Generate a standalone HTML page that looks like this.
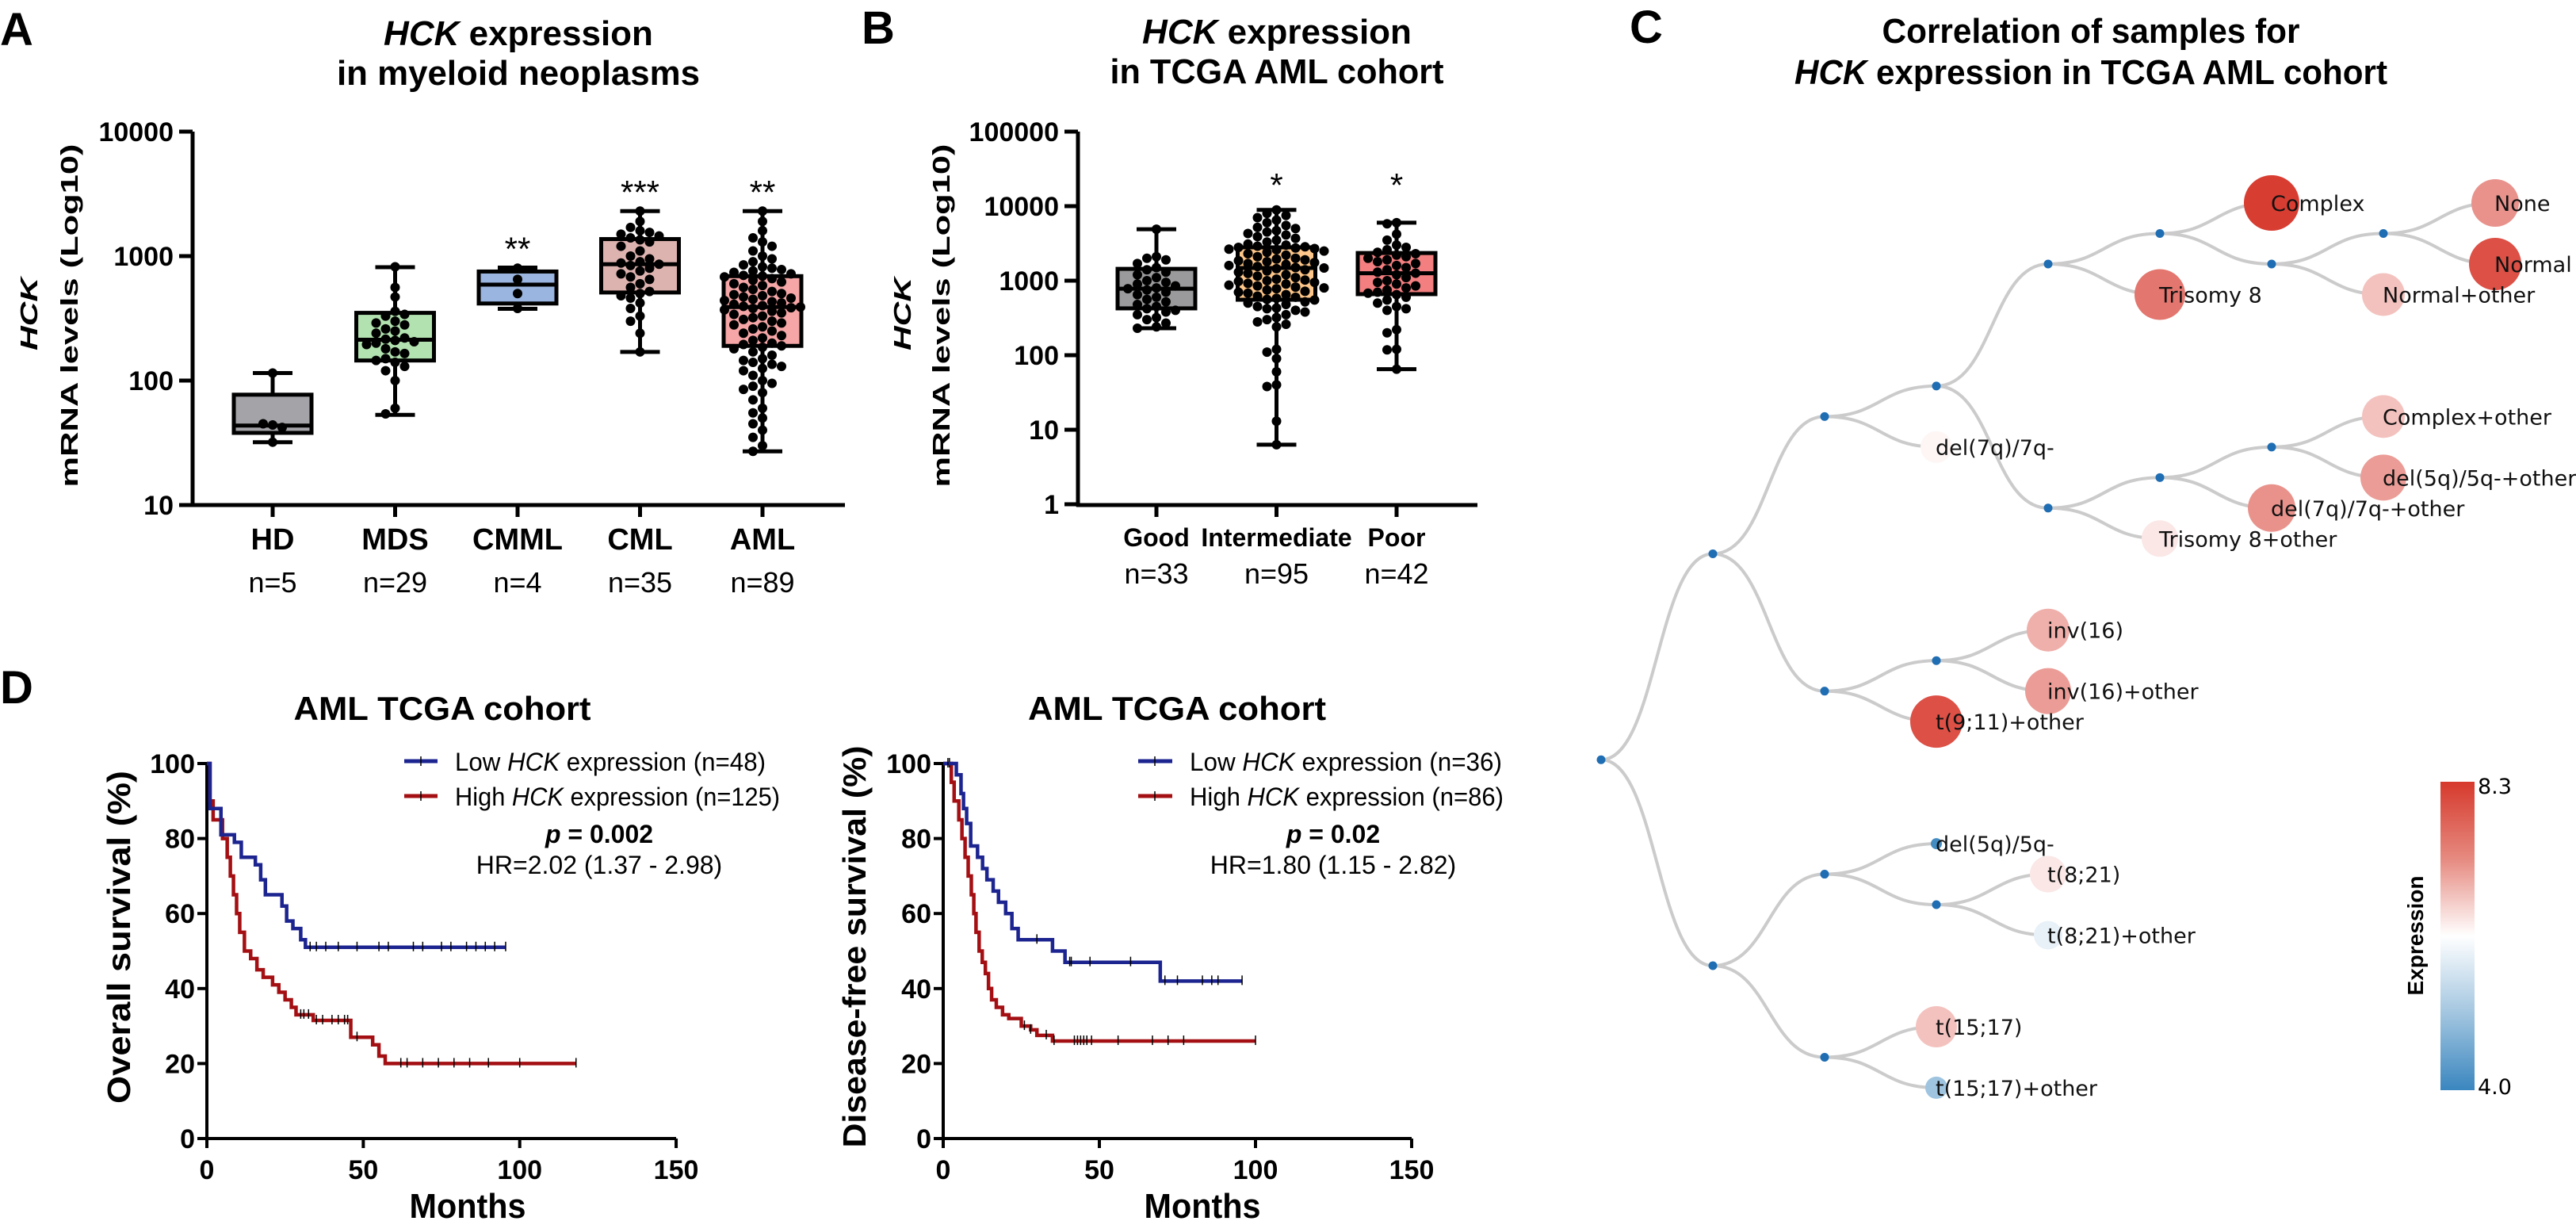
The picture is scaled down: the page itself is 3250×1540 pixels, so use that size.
<!DOCTYPE html>
<html>
<head>
<meta charset="utf-8">
<style>
  html,body{margin:0;padding:0;background:#fff;}
  svg{display:block;}
  text{font-family:"Liberation Sans",Arial,sans-serif;}
  .tree-label{font-family:"DejaVu Sans","Liberation Sans",sans-serif;}
</style>
</head>
<body>
<svg id="fig" xmlns="http://www.w3.org/2000/svg" width="3250" height="1540" viewBox="0 0 3250 1540">
  <defs>
    <linearGradient id="cbar" x1="0" y1="0" x2="0" y2="1">
      <stop offset="0" stop-color="#d6392c"/>
      <stop offset="0.25" stop-color="#e68a80"/>
      <stop offset="0.5" stop-color="#ffffff"/>
      <stop offset="0.75" stop-color="#a3c6e0"/>
      <stop offset="1" stop-color="#3a86bf"/>
    </linearGradient>
  </defs>
  <rect x="0" y="0" width="3250" height="1540" fill="#fff"/>

  <!-- Panel letters -->
  <text x="0" y="57" font-size="58" font-weight="bold">A</text>
  <text x="1087" y="55" font-size="58" font-weight="bold">B</text>
  <text x="2056" y="54" font-size="58" font-weight="bold">C</text>
  <text x="0" y="887" font-size="58" font-weight="bold">D</text>

  <!-- Titles -->
  <g font-weight="bold" font-size="44" text-anchor="middle">
    <text x="654" y="57"><tspan font-style="italic">HCK</tspan> expression</text>
    <text x="654" y="107" textLength="458" lengthAdjust="spacingAndGlyphs">in myeloid neoplasms</text>
  </g>
  <g font-weight="bold" font-size="44" text-anchor="middle">
    <text x="1611" y="55"><tspan font-style="italic">HCK</tspan> expression</text>
    <text x="1611" y="105" textLength="421" lengthAdjust="spacingAndGlyphs">in TCGA AML cohort</text>
  </g>
  <g font-weight="bold" font-size="44" text-anchor="middle">
    <text x="2638" y="54" textLength="527" lengthAdjust="spacingAndGlyphs">Correlation of samples for</text>
    <text x="2638" y="106" textLength="748" lengthAdjust="spacingAndGlyphs"><tspan font-style="italic">HCK</tspan> expression in TCGA AML cohort</text>
  </g>
  <text x="558" y="908" font-size="42" font-weight="bold" text-anchor="middle" textLength="375" lengthAdjust="spacingAndGlyphs">AML TCGA cohort</text>
  <text x="1485" y="908" font-size="42" font-weight="bold" text-anchor="middle" textLength="376" lengthAdjust="spacingAndGlyphs">AML TCGA cohort</text>

  <!-- Y axis titles A/B -->
  <g font-weight="bold" font-size="31" text-anchor="middle">
    <text transform="translate(47,396) rotate(-90)" font-style="italic" textLength="92" lengthAdjust="spacingAndGlyphs">HCK</text>
    <text transform="translate(98,398) rotate(-90)" textLength="433" lengthAdjust="spacingAndGlyphs">mRNA levels (Log10)</text>
  </g>
  <g font-weight="bold" font-size="31" text-anchor="middle">
    <text transform="translate(1149,396) rotate(-90)" font-style="italic" textLength="92" lengthAdjust="spacingAndGlyphs">HCK</text>
    <text transform="translate(1198,398) rotate(-90)" textLength="433" lengthAdjust="spacingAndGlyphs">mRNA levels (Log10)</text>
  </g>

  <!-- D axis titles -->
  <text transform="translate(164,1182) rotate(-90)" font-size="41" font-weight="bold" text-anchor="middle" textLength="420" lengthAdjust="spacingAndGlyphs">Overall survival (%)</text>
  <text transform="translate(1092,1194) rotate(-90)" font-size="41" font-weight="bold" text-anchor="middle" textLength="507" lengthAdjust="spacingAndGlyphs">Disease-free survival (%)</text>
  <text x="590" y="1536" font-size="44" font-weight="bold" text-anchor="middle" textLength="147" lengthAdjust="spacingAndGlyphs">Months</text>
  <text x="1517" y="1536" font-size="44" font-weight="bold" text-anchor="middle" textLength="147" lengthAdjust="spacingAndGlyphs">Months</text>

  <!-- D legends -->
  <g font-size="32">
    <g>
      <line x1="510" y1="960" x2="552" y2="960" stroke="#1c2490" stroke-width="5"/>
      <line x1="531" y1="954" x2="531" y2="966" stroke="#000" stroke-width="1.5"/>
      <text x="574" y="972" textLength="392" lengthAdjust="spacingAndGlyphs">Low <tspan font-style="italic">HCK</tspan> expression (n=48)</text>
    </g>
    <g>
      <line x1="510" y1="1004" x2="552" y2="1004" stroke="#a30f12" stroke-width="5"/>
      <line x1="531" y1="998" x2="531" y2="1010" stroke="#000" stroke-width="1.5"/>
      <text x="574" y="1016" textLength="410" lengthAdjust="spacingAndGlyphs">High <tspan font-style="italic">HCK</tspan> expression (n=125)</text>
    </g>
    <text x="756" y="1063" text-anchor="middle" font-weight="bold"><tspan font-style="italic">p</tspan> = 0.002</text>
    <text x="756" y="1102" text-anchor="middle">HR=2.02 (1.37 - 2.98)</text>
  </g>
  <g font-size="32">
    <g>
      <line x1="1436" y1="960" x2="1479" y2="960" stroke="#1c2490" stroke-width="5"/>
      <line x1="1457" y1="954" x2="1457" y2="966" stroke="#000" stroke-width="1.5"/>
      <text x="1501" y="972" textLength="394" lengthAdjust="spacingAndGlyphs">Low <tspan font-style="italic">HCK</tspan> expression (n=36)</text>
    </g>
    <g>
      <line x1="1436" y1="1004" x2="1479" y2="1004" stroke="#a30f12" stroke-width="5"/>
      <line x1="1457" y1="998" x2="1457" y2="1010" stroke="#000" stroke-width="1.5"/>
      <text x="1501" y="1016" textLength="396" lengthAdjust="spacingAndGlyphs">High <tspan font-style="italic">HCK</tspan> expression (n=86)</text>
    </g>
    <text x="1682" y="1063" text-anchor="middle" font-weight="bold"><tspan font-style="italic">p</tspan> = 0.02</text>
    <text x="1682" y="1102" text-anchor="middle">HR=1.80 (1.15 - 2.82)</text>
  </g>

  <!-- Colorbar -->
  <g>
    <rect x="3079" y="986" width="43" height="389" fill="url(#cbar)"/>
    <text x="3126" y="1001" class="tree-label" font-size="27">8.3</text>
    <text x="3126" y="1380" class="tree-label" font-size="27">4.0</text>
    <text transform="translate(3057,1180) rotate(-90)" font-size="28" font-weight="bold" text-anchor="middle">Expression</text>
  </g>

  <g id="layer"></g>
</svg>

<script>
// ===== Panel A data =====
const catA = ['HD','MDS','CMML','CML','AML'];
const nA = [5,29,4,35,89];
const q1A = [38,145,416,510,190];
const medA = [43.5,213,590,860,390];
const q3A = [77,350,752,1370,690];
const loA = [32,53,377,170,27];
const hiA = [115,815,808,2300,2300];
const sigA = ['','','**','***','**'];
const colA = ['#a3a3a8','#b2e2b0','#9ab5df','#ddb3b0','#f6a6a6'];
const ticksA = [10,100,1000,10000];
const ptsHD = [115,44,45,42,32];
const ptsMDS = [820,560,470,360,330,340,300,290,280,260,250,240,220,215,210,205,200,195,180,170,165,150,145,140,130,120,100,60,54];
const ptsCMML = [800,650,500,380];
const ptsCML = [2300,1900,1700,1600,1550,1500,1450,1400,1350,1300,1200,1100,1000,950,900,880,860,840,800,760,720,680,650,600,560,520,500,480,460,420,380,330,300,240,170];
const ptsAML = [2300,1900,1600,1400,1300,1200,1100,1000,950,900,850,820,800,780,760,740,720,700,690,680,660,640,620,600,580,560,540,520,500,490,480,470,460,450,440,430,420,410,400,395,390,385,380,370,360,350,340,330,320,310,300,290,280,270,260,250,240,230,220,210,200,195,190,185,180,170,160,150,145,140,135,130,125,120,110,100,95,90,85,80,70,60,55,50,45,40,35,30,27];

// ===== Panel B data =====
const catB = ['Good','Intermediate','Poor'];
const nB = [33,95,42];
const q1B = [425,555,660];
const medB = [780,1480,1260];
const q3B = [1440,2800,2350];
const loB = [230,6.3,65];
const hiB = [4900,8900,6000];
const sigB = ['','*','*'];
const colB = ['#9a9a9c','#fdc68a','#f47f80'];
const ticksB = [1,10,100,1000,10000,100000];
const ptsGood = [4900,2100,2000,1900,1700,1500,1400,1300,1200,1100,1000,950,900,850,800,780,750,700,650,600,560,520,480,450,420,400,380,350,320,300,270,240,230];
const ptsInter = [8900,8000,7500,7000,6500,6000,5500,5200,5000,4700,4500,4300,4100,3900,3700,3500,3300,3100,3000,2900,2850,2800,2750,2700,2650,2600,2500,2400,2300,2200,2100,2000,1950,1900,1850,1800,1750,1700,1650,1600,1550,1500,1480,1450,1400,1350,1300,1250,1200,1150,1100,1050,1020,1000,980,950,920,900,870,850,820,800,780,750,720,700,680,650,620,600,580,560,550,520,500,480,450,430,420,400,380,350,320,300,280,260,240,120,110,90,60,40,38,13,6.3];
const ptsPoor = [6000,5800,4200,3500,3000,2800,2600,2400,2300,2200,2100,2000,1900,1800,1700,1600,1500,1400,1300,1260,1200,1100,1000,950,900,850,800,750,700,680,650,600,550,500,450,420,400,220,200,120,118,65];

// ===== Panel C data =====
const treeNames = ['root','n1','n2','n3','del(7q)/7q-','n4','n5','n6','Trisomy 8','Complex','n7','n8','Normal+other','None','Normal',
  'n9','Trisomy 8+other','n10','del(7q)/7q-+other','Complex+other','del(5q)/5q-+other',
  'n11','n12','t(9;11)+other','inv(16)','inv(16)+other',
  'n13','n14','del(5q)/5q-','n15','t(8;21)','t(8;21)+other','n16','t(15;17)','t(15;17)+other'];
const treeParent = [-1,0,1,2,2,3,3,5,5,7,7,10,10,11,11,
  6,6,15,15,17,17,
  1,21,21,22,22,
  0,26,27,27,29,29,26,32,32];
const leafRow = [null,null,null,null,8,null,null,null,3,0,null,null,3,0,2,
  null,11,null,10,7,9,
  null,null,17,14,16,
  null,null,21,null,22,24,null,27,29];
const leafExpr = [null,null,null,null,6.25,null,null,null,7.6,8.2,null,null,6.8,7.3,8.0,
  null,6.4,null,7.3,6.8,7.2,
  null,null,8.0,7.0,7.2,
  null,null,4.1,null,6.4,5.9,null,6.8,5.1];
const leafSize = [null,null,null,null,20,null,null,null,32,35,null,null,27,30,33,
  null,23,null,30,27,29,
  null,null,33,27,29,
  null,null,7,null,23,18,null,26,14];

// ===== Panel D data =====
const osLowT = [0,1,4.5,8.8,11,15.5,17.2,18.7,24,25.5,27.5,30,31.5];
const osLowS = [100,88,81,79,75,73,69,65,62,58,56,53,51];
const osLowEnd = 95.5;
const osLowCens = [33,35,38,42,48,55,58,66,69,75,78,83,86,89,92,95.5];
const osHighT = [0,1,2,5,6.5,7.5,8.5,9.5,10.5,12,14,16,18,21,23,25,27,28.5,34,46,53,55,57];
const osHighS = [100,90,85,80,75,70,65,60,55,50,48,45,43,41,39,37,35,33,31.5,27,25,22,20];
const osHighEnd = 118;
const osHighCens = [30,31,32.5,35,37,40,42,44,45,48,62,64,69,74,79,84,90,100,118];
const dfsLowT = [0,4.2,5.7,6.5,7.5,8.8,11,12.6,14,16,17.7,20,22,24,35,39,69.5];
const dfsLowS = [100,97,92,88,84,78,75,72,69,66,63,60,56,53,50,47,42];
const dfsLowEnd = 95.7;
const dfsLowCens = [1.5,30,40.5,41,47,60,71,75,83,86,88,95.7];
const dfsHighT = [0,2.6,3.5,5,6,7,8,9,9.8,10.5,11.5,12.5,13.5,14.5,15.5,17,19,21,25,28,30,35];
const dfsHighS = [100,95,90,85,80,75,70,65,60,55,50,47,44,40,37,35,33,32,30,29,27.5,26];
const dfsHighEnd = 100;
const dfsHighCens = [2,26,28,33,35.5,42,43,44,45,46,47.5,56,67,72,77,100];
const kmTicksY = [0,20,40,60,80,100];
const kmTicksX = [0,50,100,150];

// ===== drawing =====
const NS = 'http://www.w3.org/2000/svg';
const layer = document.getElementById('layer');
function mk(tag, attrs, parent) {
  const e = document.createElementNS(NS, tag);
  for (const k in attrs) e.setAttribute(k, attrs[k]);
  (parent || layer).appendChild(e);
  return e;
}

// scales
const yA = v => 637 - 157 * (Math.log10(v) - 1);
const xA = i => 344 + 154.5 * i;
const yB = v => 636 - 94 * Math.log10(v);
const xB = i => 1459 + 151.5 * i;
const xOS = t => 261 + t * 3.947;
const xDFS = t => 1190 + t * 3.94;
const yKM = s => 1436 - s * 4.73;

function swarm(vals, cx, yf) {
  const placed = [];
  const slots = [0,-12,12,-24,24,-36,36,-48,48,-60,60];
  const out = [];
  for (const v of vals) {
    const y = yf(v);
    let px = cx;
    for (const s of slots) {
      const x = cx + s;
      if (placed.every(p => Math.hypot(p[0]-x, p[1]-y) >= 11.5)) { px = x; break; }
    }
    placed.push([px, y]);
    out.push([px, y]);
  }
  return out;
}

function boxPanel(prefix, cats, q1, med, q3, lo, hi, sig, cols, pts, xf, yf, ticks, axisX, axisY, axisRight, topY, starMode) {
  const g = mk('g', {});
  
  
  // axes
  const ya = mk('line', {x1: axisX, y1: topY, x2: axisX, y2: axisY + 2, stroke: '#000', 'stroke-width': 5}, g);
  
  
  const xa = mk('line', {x1: axisX - 2, y1: axisY, x2: axisRight, y2: axisY, stroke: '#000', 'stroke-width': 5}, g);
  
  
  ticks.forEach(t => {
    const y = yf(t);
    const tk = mk('line', {x1: axisX - 17, y1: y, x2: axisX, y2: y, stroke: '#000', 'stroke-width': 5}, g);
    
    
    const lb = mk('text', {x: axisX - 24, y: y + 12, 'font-size': 34, 'font-weight': 'bold', 'text-anchor': 'end'}, g);
    lb.textContent = String(t);
    
    
  });
  cats.forEach((c, i) => {
    const cx = xf(i);
    const tk = mk('line', {x1: cx, y1: axisY, x2: cx, y2: axisY + 15, stroke: '#000', 'stroke-width': 5}, g);
    
    
    const bw = 98, cw = 50;
    const wh = mk('line', {x1: cx, y1: yf(hi[i]), x2: cx, y2: yf(lo[i]), stroke: '#000', 'stroke-width': 5}, g);
    
    
    const ct = mk('line', {x1: cx - cw/2, y1: yf(hi[i]), x2: cx + cw/2, y2: yf(hi[i]), stroke: '#000', 'stroke-width': 5}, g);
    
    
    const cb = mk('line', {x1: cx - cw/2, y1: yf(lo[i]), x2: cx + cw/2, y2: yf(lo[i]), stroke: '#000', 'stroke-width': 5}, g);
    
    
    const bx = mk('rect', {x: cx - bw/2, y: yf(q3[i]), width: bw, height: yf(q1[i]) - yf(q3[i]), fill: cols[i], stroke: '#000', 'stroke-width': 5}, g);
    
    
    const md = mk('line', {x1: cx - bw/2, y1: yf(med[i]), x2: cx + bw/2, y2: yf(med[i]), stroke: '#000', 'stroke-width': 5}, g);
    
    
    swarm(pts[i], cx, yf).forEach(p => {
      const d = mk('circle', {cx: p[0], cy: p[1], r: 6, fill: '#000'}, g);
      
      
    });
    if (sig[i]) {
      const sy = starMode === 'A' ? yf(hi[i]) - 33 : yf(Math.max(...hi)) - 41;
      const st = mk('text', {x: cx, y: sy + 24, 'font-size': 42, 'text-anchor': 'middle'}, g);
      st.textContent = sig[i];
      
      
    }
  });
  return g;
}

const ga = boxPanel('panel-a', catA, q1A, medA, q3A, loA, hiA, sigA, colA, [ptsHD, ptsMDS, ptsCMML, ptsCML, ptsAML], xA, yA, ticksA, 243, 637, 1066, 166, 'A');
catA.forEach((c, i) => {
  const t = mk('text', {x: xA(i), y: 693, 'font-size': 38, 'font-weight': 'bold', 'text-anchor': 'middle'}, ga);
  t.textContent = c;
  
  
  const n = mk('text', {x: xA(i), y: 747, 'font-size': 36, 'text-anchor': 'middle'}, ga);
  n.textContent = 'n=' + nA[i];
  
  
});
const gb = boxPanel('panel-b', catB, q1B, medB, q3B, loB, hiB, sigB, colB, [ptsGood, ptsInter, ptsPoor], xB, yB, ticksB, 1360, 637, 1864, 166, 'B');
catB.forEach((c, i) => {
  const t = mk('text', {x: xB(i), y: 689, 'font-size': 32, 'font-weight': 'bold', 'text-anchor': 'middle'}, gb);
  t.textContent = c;
  
  
  const n = mk('text', {x: xB(i), y: 736, 'font-size': 36, 'text-anchor': 'middle'}, gb);
  n.textContent = 'n=' + nB[i];
  
  
});

// ===== KM =====
function stepAt(T, S, t) {
  let s = S[0];
  for (let i = 0; i < T.length; i++) if (T[i] <= t) s = S[i];
  return s;
}
function kmPanel(prefix, xf, curves) {
  const g = mk('g', {});
  
  
  const x0 = xf(0), x1 = xf(150);
  const ya = mk('line', {x1: x0, y1: yKM(100) - 2, x2: x0, y2: yKM(0) + 2, stroke: '#000', 'stroke-width': 4}, g);
  
  
  const xa = mk('line', {x1: x0 - 2, y1: yKM(0), x2: x1, y2: yKM(0), stroke: '#000', 'stroke-width': 4}, g);
  
  
  kmTicksY.forEach(v => {
    const tk = mk('line', {x1: x0 - 12, y1: yKM(v), x2: x0, y2: yKM(v), stroke: '#000', 'stroke-width': 4}, g);
    
    
    const lb = mk('text', {x: x0 - 15, y: yKM(v) + 12, 'font-size': 34, 'font-weight': 'bold', 'text-anchor': 'end'}, g);
    lb.textContent = String(v);
    
    
  });
  kmTicksX.forEach(v => {
    const tk = mk('line', {x1: xf(v), y1: yKM(0), x2: xf(v), y2: yKM(0) + 12, stroke: '#000', 'stroke-width': 4}, g);
    
    
    const lb = mk('text', {x: xf(v), y: 1487, 'font-size': 34, 'font-weight': 'bold', 'text-anchor': 'middle'}, g);
    lb.textContent = String(v);
    
    
  });
  curves.forEach(c => {
    let d = 'M' + xf(c.T[0]) + ',' + yKM(c.S[0]);
    for (let i = 1; i < c.T.length; i++) d += ' H' + xf(c.T[i]) + ' V' + yKM(c.S[i]);
    d += ' H' + xf(c.end);
    const p = mk('path', {d: d, fill: 'none', stroke: c.col, 'stroke-width': 4.5}, g);
    
    
    c.cens.forEach(t => {
      const y = yKM(stepAt(c.T, c.S, t));
      const ck = mk('line', {x1: xf(t), y1: y - 7, x2: xf(t), y2: y + 5, stroke: '#000', 'stroke-width': 1.5}, g);
      
      
    });
  });
}
kmPanel('os', xOS, [
  {name: 'high', T: osHighT, S: osHighS, end: osHighEnd, cens: osHighCens, col: '#a30f12'},
  {name: 'low', T: osLowT, S: osLowS, end: osLowEnd, cens: osLowCens, col: '#1c2490'}
]);
kmPanel('dfs', xDFS, [
  {name: 'high', T: dfsHighT, S: dfsHighS, end: dfsHighEnd, cens: dfsHighCens, col: '#a30f12'},
  {name: 'low', T: dfsLowT, S: dfsLowS, end: dfsLowEnd, cens: dfsLowCens, col: '#1c2490'}
]);

// ===== Tree =====
const depth = treeNames.map((_, i) => { let d = 0, p = treeParent[i]; while (p >= 0) { d++; p = treeParent[p]; } return d; });
const rowOf = [];
function computeRow(i) {
  if (rowOf[i] !== undefined) return rowOf[i];
  if (leafRow[i] !== null) return (rowOf[i] = leafRow[i]);
  const kids = treeParent.map((p, j) => p === i ? j : -1).filter(j => j >= 0);
  const r = kids.reduce((s, k) => s + computeRow(k), 0) / kids.length;
  return (rowOf[i] = r);
}
treeNames.forEach((_, i) => computeRow(i));
const tx = i => 2020 + 141 * depth[i];
const ty = i => 256 + 38.48 * rowOf[i];
function exprColor(v) {
  const blue = [58,134,191], white = [255,255,255], red = [214,52,40];
  let a, b, t;
  if (v < 6.15) { a = blue; b = white; t = (v - 4) / 2.15; } else { a = white; b = red; t = (v - 6.15) / 2.15; }
  t = Math.max(0, Math.min(1, t));
  return 'rgb(' + a.map((c, k) => Math.round(c + (b[k] - c) * t)).join(',') + ')';
}
const gt = mk('g', {});


treeNames.forEach((nm, i) => {
  const p = treeParent[i];
  if (p < 0) return;
  const x0 = tx(p), y0 = ty(p), x1 = tx(i), y1 = ty(i), mx = (x0 + x1) / 2;
  const l = mk('path', {d: 'M' + x0 + ',' + y0 + ' C' + mx + ',' + y0 + ' ' + mx + ',' + y1 + ' ' + x1 + ',' + y1, fill: 'none', stroke: '#cbcbcb', 'stroke-width': 4}, gt);
  
  
});
treeNames.forEach((nm, i) => {
  if (leafRow[i] === null) {
    const c = mk('circle', {cx: tx(i), cy: ty(i), r: 5.5, fill: '#1f6db3'}, gt);
    
    
  } else {
    const c = mk('circle', {cx: tx(i), cy: ty(i), r: leafSize[i], fill: exprColor(leafExpr[i])}, gt);
    
    
  }
});
treeNames.forEach((nm, i) => {
  if (leafRow[i] === null) return;
  const t = mk('text', {x: tx(i) - 1, y: ty(i) + 10, 'font-size': 27, class: 'tree-label', fill: '#111'}, gt);
  t.textContent = nm;
  
  
});
</script>
</body>
</html>
